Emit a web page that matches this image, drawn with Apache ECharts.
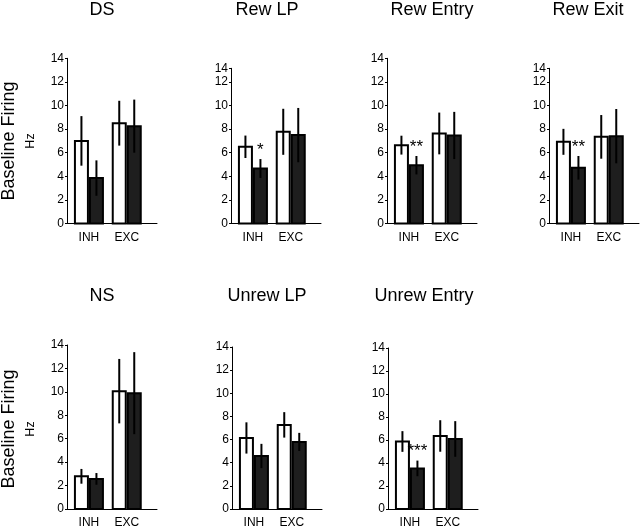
<!DOCTYPE html>
<html>
<head>
<meta charset="utf-8">
<script src="https://cdn.jsdelivr.net/npm/echarts@6/dist/echarts.min.js"></script>
<style>
html,body{margin:0;padding:0;background:#fff;}
#c{width:640px;height:529px;}
</style>
</head>
<body>
<div id="c"></div>
<script>
// ---- data ----
const categories = ['INH', 'EXC'];
const panelTitles = ['DS', 'Rew LP', 'Rew Entry', 'Rew Exit', 'NS', 'Unrew LP', 'Unrew Entry'];
const whiteMean = [[7.0, 8.5], [6.5, 7.77], [6.64, 7.63], [6.92, 7.34], [2.79, 10.06], [6.14, 7.27], [5.87, 6.35]];
const whiteErr  = [[2.1, 1.9], [0.95, 1.95], [0.8, 1.77], [1.1, 1.85], [0.63, 2.75], [1.35, 1.1], [0.9, 1.37]];
const blackMean = [[3.85, 8.25], [4.66, 7.49], [4.94, 7.46], [4.72, 7.4], [2.57, 9.89], [4.58, 5.8], [3.53, 6.09]];
const blackErr  = [[1.5, 2.25], [0.8, 2.3], [0.78, 2.0], [1.0, 2.3], [0.5, 3.5], [1.05, 0.78], [0.68, 1.55]];
const stars = ['', '*', '**', '**', '', '', '***'];
const yTicks = [0, 2, 4, 6, 8, 10, 12, 14];
const yAxisTitle = 'Baseline Firing';
const yAxisUnit = 'Hz';

// ---- layout ----
const layout = [
  {left: 67,  top: 58.3, bottom: 223.5, yMax: 14,    tx: 102, ty: 10},
  {left: 231, top: 68.3, bottom: 223.5, yMax: 13.15, tx: 267, ty: 10},
  {left: 387, top: 58.3, bottom: 223.5, yMax: 14,    tx: 432, ty: 10},
  {left: 549, top: 68.3, bottom: 223.5, yMax: 13.15, tx: 588, ty: 10},
  {left: 67,  top: 345,  bottom: 512,   yMax: 14,    tx: 102, ty: 296},
  {left: 232, top: 347,  bottom: 512,   yMax: 14,    tx: 267, ty: 296},
  {left: 388, top: 348,  bottom: 512,   yMax: 14,    tx: 424, ty: 296}
];
const font = 'Arial, "Liberation Sans", Helvetica, sans-serif';

const grids = [], xAxes = [], yAxes = [], series = [], graphics = [];

layout.forEach((L, p) => {
  grids.push({left: L.left, top: L.top, width: 90, height: L.bottom - L.top, containLabel: false});
  xAxes.push({
    type: 'value', gridIndex: p, min: 0.42, max: 2.8,
    axisLine: {show: true, onZero: true, lineStyle: {color: '#000', width: 1}},
    axisTick: {show: false},
    splitLine: {show: false},
    axisLabel: {
      customValues: [1, 2],
      formatter: v => categories[Math.round(v) - 1] || '',
      color: '#000', fontSize: 12, fontFamily: font, margin: 8
    }
  });
  yAxes.push({
    type: 'value', gridIndex: p, min: 0, max: L.yMax, interval: 2,
    axisLine: {show: true, lineStyle: {color: '#000', width: 1}},
    axisTick: {show: true, length: 2, lineStyle: {color: '#000'}},
    splitLine: {show: false},
    axisLabel: {
      color: '#000', fontSize: 12, fontFamily: font, margin: 3,
      showMaxLabel: true,
      formatter: v => (v > 12.5 ? String(yTicks[yTicks.length - 1]) : String(Math.round(v)))
    }
  });

  const makeSeries = (means, errs, offset, fill, starText) => ({
    type: 'custom', xAxisIndex: p, yAxisIndex: p,
    data: means.map((m, i) => [i + 1, m, errs[i]]),
    renderItem: (params, api) => {
      const x = api.value(0), v = api.value(1), e = api.value(2);
      const base = api.coord([x, 0]);
      const top = api.coord([x, v]);
      const hi = api.coord([x, v + e]);
      const lo = api.coord([x, Math.max(0, v - e)]);
      const cx = base[0] + offset;
      const children = [
        {type: 'rect', shape: {x: cx - 6.5, y: top[1], width: 13, height: base[1] - top[1]},
         style: {fill: fill, stroke: '#000', lineWidth: 2}},
        {type: 'line', shape: {x1: cx, y1: hi[1], x2: cx, y2: lo[1]},
         style: {stroke: '#000', lineWidth: 2}}
      ];
      if (starText && params.dataIndex === 0) {
        children.push({type: 'text', x: cx, y: hi[1] - 9,
          style: {text: starText, fill: '#000', font: '17px ' + font, align: 'center', verticalAlign: 'middle'}});
      }
      return {type: 'group', children};
    }
  });
  series.push(makeSeries(whiteMean[p], whiteErr[p], -7.5, '#fff', ''));
  series.push(makeSeries(blackMean[p], blackErr[p], 7.5, '#1e1e1e', stars[p]));

  graphics.push({type: 'text', x: L.tx, y: L.ty,
    style: {text: panelTitles[p], fill: '#000', font: '18px ' + font, align: 'center', verticalAlign: 'middle'}});
});

// y-axis titles (rows)
[{cy: 141}, {cy: 429}].forEach(r => {
  graphics.push({type: 'text', x: 9, y: r.cy, rotation: Math.PI / 2,
    style: {text: yAxisTitle, fill: '#000', font: '18px ' + font, align: 'center', verticalAlign: 'middle'}});
  graphics.push({type: 'text', x: 31, y: r.cy, rotation: Math.PI / 2,
    style: {text: yAxisUnit, fill: '#000', font: '12.5px ' + font, align: 'center', verticalAlign: 'middle'}});
});

const chart = echarts.init(document.getElementById('c'), null, {renderer: 'canvas'});
chart.setOption({
  animation: false,
  backgroundColor: '#fff',
  grid: grids, xAxis: xAxes, yAxis: yAxes, series: series, graphic: graphics
});
</script>
</body>
</html>
